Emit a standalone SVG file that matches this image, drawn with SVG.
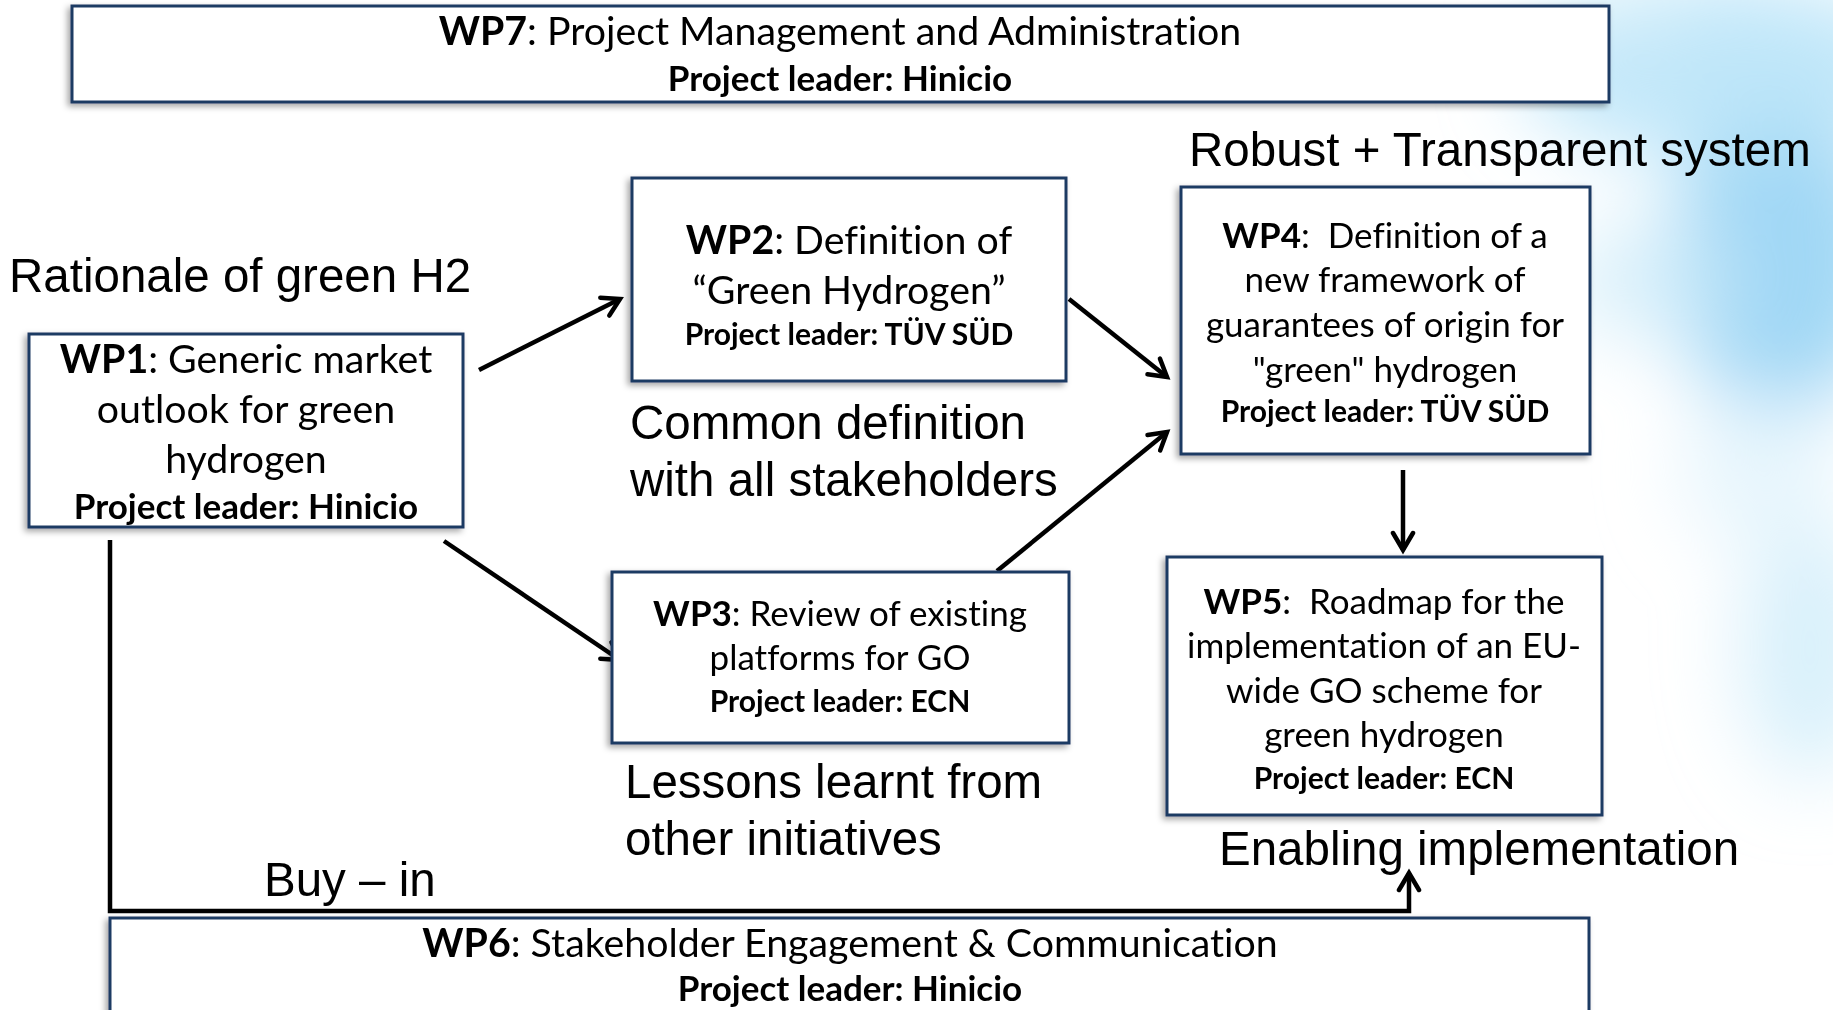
<svg xmlns="http://www.w3.org/2000/svg" width="1833" height="1010" viewBox="0 0 1833 1010">
<defs>
<style>
.box{fill:#fff;stroke:#1f3a63;stroke-width:3;filter:url(#sh)}
.t{font-family:Lato,"Noto Sans",sans-serif;fill:#000;text-anchor:middle;font-variant-ligatures:none;font-feature-settings:"liga" 0,"clig" 0}
.b{font-weight:bold}
.big{font-size:39.3px}
.med{font-size:35px}
.sm{font-size:30px}
.lbl{font-family:"Liberation Sans",Arial,sans-serif;font-size:47.5px;fill:#000}
.con{fill:none;stroke:#000;stroke-width:4.5}
</style>
<filter id="sh" x="-10%" y="-10%" width="120%" height="130%">
<feDropShadow dx="-3" dy="3" stdDeviation="3" flood-color="#000" flood-opacity="0.35"/>
</filter>
<filter id="blur" x="-50%" y="-50%" width="200%" height="200%">
<feGaussianBlur stdDeviation="40"/>
</filter>
<marker id="arr" viewBox="0 0 26 26" refX="21" refY="13" markerWidth="26" markerHeight="26" markerUnits="userSpaceOnUse" orient="auto">
<path d="M4,3 L21,13 L4,23" fill="none" stroke="#000" stroke-width="4.5" stroke-linecap="round" stroke-linejoin="miter"/>
</marker>
</defs>
<rect width="1833" height="1010" fill="#fff"/>
<g id="background" filter="url(#blur)">
<ellipse cx="1780" cy="260" rx="110" ry="160" fill="#8fd0f3" opacity="0.85"/>
<ellipse cx="1720" cy="70" rx="200" ry="90" fill="#b5e3f8" opacity="0.85"/>
<ellipse cx="1650" cy="280" rx="90" ry="60" fill="#cdebf9" opacity="0.7"/>
<ellipse cx="1620" cy="20" rx="60" ry="40" fill="#d2eefa" opacity="0.8"/>
<ellipse cx="1810" cy="650" rx="70" ry="130" fill="#c8e9f9" opacity="0.7"/>
<ellipse cx="1760" cy="470" rx="80" ry="80" fill="#e2f4fc" opacity="0.8"/>
</g>

<g id="connectors">
<line class="con" x1="479" y1="370" x2="620" y2="299" marker-end="url(#arr)"/>
<line class="con" x1="444" y1="541" x2="620" y2="660" marker-end="url(#arr)"/>
<line class="con" x1="1069" y1="299" x2="1167" y2="377" marker-end="url(#arr)"/>
<line class="con" x1="997" y1="571" x2="1167" y2="432" marker-end="url(#arr)"/>
<line class="con" x1="1403" y1="470" x2="1403" y2="550" marker-end="url(#arr)"/>
<polyline class="con" points="110,540 110,911 1409,911 1409,873" marker-end="url(#arr)"/>
</g>

<g id="wp7">
<rect class="box" x="72" y="6" width="1537" height="96"/>
<text class="t big" x="840" y="45"><tspan class="b">WP7</tspan>: Project Management and Administration</text>
<text class="t med b" x="840" y="91">Project leader: Hinicio</text>
</g>

<g id="wp1">
<rect class="box" x="29" y="334" width="434" height="193"/>
<text class="t big" x="246" y="373"><tspan class="b">WP1</tspan>: Generic market</text>
<text class="t big" x="246" y="423">outlook for green</text>
<text class="t big" x="246" y="473">hydrogen</text>
<text class="t med b" x="246" y="519">Project leader: Hinicio</text>
</g>

<g id="wp2">
<rect class="box" x="632" y="178" width="434" height="203"/>
<text class="t big" x="849" y="254"><tspan class="b">WP2</tspan>: Definition of</text>
<text class="t big" x="849" y="304">“Green Hydrogen”</text>
<text class="t sm b" x="849" y="345">Project leader: TÜV SÜD</text>
</g>

<g id="wp3">
<rect class="box" x="612" y="572" width="457" height="171"/>
<text class="t med" x="840" y="626"><tspan class="b">WP3</tspan>: Review of existing</text>
<text class="t med" x="840" y="670">platforms for GO</text>
<text class="t sm b" x="840" y="712">Project leader: ECN</text>
</g>

<g id="wp4">
<rect class="box" x="1181" y="187" width="409" height="267"/>
<text class="t med" x="1385" y="248" xml:space="preserve"><tspan class="b">WP4</tspan>:  Definition of a</text>
<text class="t med" x="1385" y="292">new framework of</text>
<text class="t med" x="1385" y="337">guarantees of origin for</text>
<text class="t med" x="1385" y="382">"green" hydrogen</text>
<text class="t sm b" x="1385" y="422">Project leader: TÜV SÜD</text>
</g>

<g id="wp5">
<rect class="box" x="1167" y="557" width="435" height="258"/>
<text class="t med" x="1384" y="614" xml:space="preserve"><tspan class="b">WP5</tspan>:  Roadmap for the</text>
<text class="t med" x="1384" y="658">implementation of an EU-</text>
<text class="t med" x="1384" y="703">wide GO scheme for</text>
<text class="t med" x="1384" y="747">green hydrogen</text>
<text class="t sm b" x="1384" y="789">Project leader: ECN</text>
</g>

<g id="wp6">
<rect class="box" x="110" y="918" width="1479" height="100"/>
<text class="t big" x="850" y="957"><tspan class="b">WP6</tspan>: Stakeholder Engagement &amp; Communication</text>
<text class="t med b" x="850" y="1001">Project leader: Hinicio</text>
</g>

<g id="labels">
<text class="lbl" x="1189" y="166">Robust + Transparent system</text>
<text class="lbl" x="9" y="292">Rationale of green H2</text>
<text class="lbl" x="630" y="439">Common definition</text>
<text class="lbl" x="630" y="496">with all stakeholders</text>
<text class="lbl" x="625" y="798">Lessons learnt from</text>
<text class="lbl" x="625" y="855">other initiatives</text>
<text class="lbl" x="1219" y="865">Enabling implementation</text>
<text class="lbl" x="264" y="896">Buy – in</text>
</g>
</svg>
